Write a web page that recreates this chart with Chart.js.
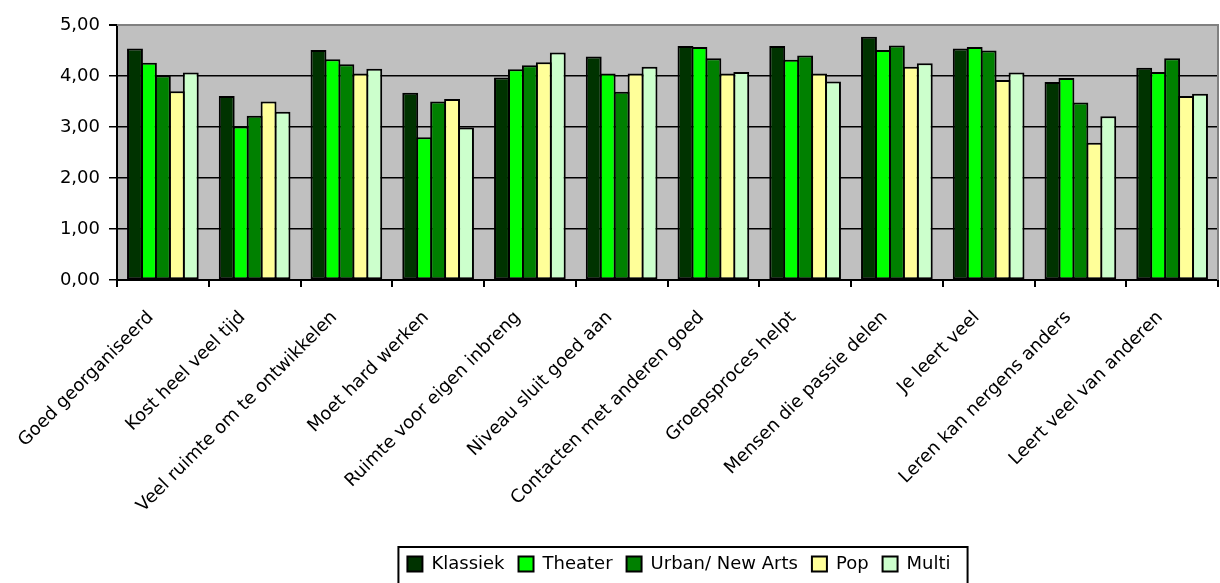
<!DOCTYPE html>
<html>
<head>
<meta charset="utf-8">
<script src="https://cdn.jsdelivr.net/npm/chart.js@4"></script>
<style>
html,body{margin:0;padding:0;background:#fff}
</style>
</head>
<body>
<canvas id="myChart" width="1220" height="583"></canvas>
<script>
'use strict'
let categories=['Goed georganiseerd','Kost heel veel tijd','Veel ruimte om te ontwikkelen','Moet hard werken','Ruimte voor eigen inbreng','Niveau sluit goed aan','Contacten met anderen goed','Groepsproces helpt','Mensen die passie delen','Je leert veel','Leren kan nergens anders','Leert veel van anderen']
let seriesNames=['Klassiek','Theater','Urban/ New Arts','Pop','Multi']
let klassiek=[4.54,3.61,4.51,3.67,3.97,4.38,4.59,4.59,4.77,4.54,3.88,4.16]
let theater=[4.26,3.01,4.33,2.80,4.13,4.05,4.57,4.32,4.51,4.57,3.96,4.08]
let urban=[4.01,3.22,4.23,3.50,4.21,3.69,4.35,4.40,4.60,4.50,3.48,4.35]
let pop=[3.70,3.50,4.05,3.55,4.27,4.05,4.05,4.05,4.18,3.92,2.69,3.61]
let multi=[4.07,3.30,4.14,2.99,4.46,4.18,4.08,3.89,4.25,4.07,3.21,3.65]
let yTickLabels=['0,00','1,00','2,00','3,00','4,00','5,00']

let colors=['#003300','#00ff00','#008000','#ffff99','#ccffcc']
let allValues=[klassiek,theater,urban,pop,multi]

let font={family:'DejaVu Sans',size:18}

let plotFrame={
  id:'plotFrame',
  beforeDraw(chart){
    let a=chart.chartArea
    let ctx=chart.ctx
    ctx.save()
    ctx.fillStyle='#c0c0c0'
    ctx.fillRect(a.left,a.top,a.right-a.left,a.bottom-a.top)
    ctx.restore()
  },
  beforeDatasetsDraw(chart){
    let a=chart.chartArea
    let ctx=chart.ctx
    ctx.save()
    ctx.strokeStyle='#808080'
    ctx.lineWidth=2
    ctx.beginPath()
    ctx.moveTo(a.left,a.top)
    ctx.lineTo(a.right,a.top)
    ctx.lineTo(a.right,a.bottom)
    ctx.stroke()
    ctx.restore()
  },
  afterLayout(chart){
    // move legend to the right, like the original
    chart.legend.left+=70
    chart.legend.right+=70
  },
  afterDraw(chart){
    let lg=chart.legend
    let hb=lg.legendHitBoxes
    let l=Math.min(...hb.map(h=>h.left))-9
    let r=Math.max(...hb.map(h=>h.left+h.width))+17
    let ctx=chart.ctx
    ctx.save()
    ctx.strokeStyle='#000'
    ctx.lineWidth=2
    ctx.strokeRect(l,lg.top+6,r-l,80)
    ctx.restore()
  }
}

let datasets=[]
for (let i = 0; i < seriesNames.length; i++) {
  datasets.push({
    label:seriesNames[i],
    data:allValues[i],
    backgroundColor:colors[i],
    borderColor:'#000',
    borderWidth:2,
    borderSkipped:false,
    categoryPercentage:0.76,
    barPercentage:1.14
  })
}

let ctx=document.getElementById('myChart').getContext('2d')
let myChart=new Chart(ctx,{
  type:'bar',
  data:{labels:categories,datasets:datasets},
  options:{
    responsive:false,
    animation:false,
    devicePixelRatio:1,
    layout:{padding:{top:25,right:2,left:0,bottom:0}},
    plugins:{
      legend:{
        position:'bottom',
        labels:{font:font,color:'#000',boxWidth:15,boxHeight:15,padding:14}
      },
      tooltip:{enabled:false}
    },
    scales:{
      x:{
        border:{color:'#000',width:2},
        grid:{offset:true,drawOnChartArea:false,color:'#000',lineWidth:2,tickLength:7},
        ticks:{font:font,color:'#000',autoSkip:false,minRotation:45,maxRotation:45,padding:20,labelOffset:-12},
        afterFit(scale){
          scale.height=583-scale.chart.legend.height-280
        }
      },
      y:{
        min:0,max:5,
        border:{color:'#000',width:2},
        grid:{
          color:c=>c.tick.value===5?'#808080':'#000',
          lineWidth:c=>c.tick.value===5?2:1.5,
          tickColor:'#000',tickLength:8
        },
        ticks:{
          stepSize:1,font:font,color:'#000',padding:9,
          callback:(v,i)=>yTickLabels[i]
        },
        afterFit(scale){
          scale.width=117
        }
      }
    }
  },
  plugins:[plotFrame]
})
</script>
</body>
</html>
